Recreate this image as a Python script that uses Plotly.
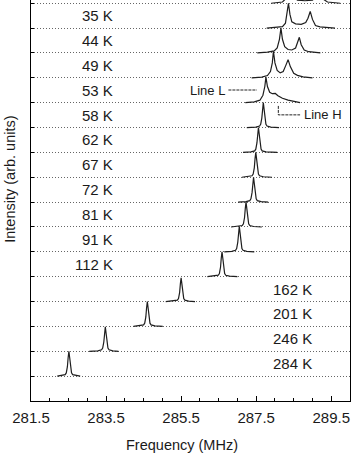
import plotly.graph_objects as go

# rows counted from the bottom (row 0 = 284 K), one band per spectrum
temps = ["284 K", "246 K", "201 K", "162 K", "112 K", "91 K", "81 K",
         "72 K", "67 K", "62 K", "58 K", "53 K", "49 K", "44 K", "35 K"]

# single-line spectra (rows 0-10): window start, peak, window end (MHz), peak height
start_f = [282.20, 283.05, 284.23, 285.09, 286.20, 286.65, 286.83, 287.02, 287.12, 287.15, 287.25]
peak_f = [282.51, 283.48, 284.60, 285.50, 286.59, 287.05, 287.23, 287.43, 287.49, 287.56, 287.69]
end_f = [282.81, 283.83, 285.01, 285.87, 287.00, 287.45, 287.65, 287.82, 287.92, 288.06, 288.11]
peak_h = [1.00, 0.98, 1.00, 0.95, 1.00, 1.03, 1.00, 1.00, 1.00, 1.00, 1.00]

# line shape (offset in MHz, relative height)
shape_df = [-0.2, -0.1, -0.07, -0.04, -0.02, 0, 0.02, 0.04, 0.07, 0.1, 0.2]
shape_h = [0.02, 0.06, 0.13, 0.38, 0.75, 1.0, 0.75, 0.38, 0.13, 0.06, 0.02]

# split spectra, read point by point
f53 = [287.21, 287.45, 287.60, 287.68, 287.73, 287.76, 287.80, 287.86, 287.93, 288.01, 288.08, 288.20, 288.35, 288.50, 288.67]
i53 = [0, 0.03, 0.10, 0.30, 0.65, 1.03, 0.65, 0.42, 0.36, 0.37, 0.28, 0.18, 0.10, 0.05, 0]
f49 = [287.38, 287.65, 287.80, 287.88, 287.93, 287.96, 288.00, 288.06, 288.14, 288.22, 288.29, 288.35, 288.41, 288.50, 288.60, 288.75, 289.00]
i49 = [0, 0.03, 0.09, 0.25, 0.60, 1.07, 0.60, 0.30, 0.20, 0.25, 0.50, 0.73, 0.45, 0.18, 0.10, 0.04, 0]
f44 = [287.53, 287.80, 287.98, 288.06, 288.12, 288.16, 288.20, 288.26, 288.35, 288.45, 288.55, 288.60, 288.65, 288.70, 288.78, 288.90, 289.21]
i44 = [0, 0.03, 0.08, 0.20, 0.55, 1.00, 0.55, 0.25, 0.14, 0.12, 0.20, 0.38, 0.63, 0.33, 0.12, 0.05, 0]
f35 = [287.78, 288.00, 288.20, 288.28, 288.32, 288.36, 288.40, 288.45, 288.55, 288.70, 288.82, 288.88, 288.94, 289.00, 289.08, 289.20, 289.60]
i35 = [0, 0.02, 0.06, 0.20, 0.55, 1.00, 0.55, 0.25, 0.17, 0.15, 0.22, 0.40, 0.67, 0.35, 0.10, 0.05, 0]
f_top = [287.90, 288.20, 288.30, 288.34, 288.38, 288.42, 288.48, 288.60, 288.80, 289.00, 289.10, 289.15, 289.19, 289.23, 289.30, 289.40, 289.74]
i_top = [0, 0.05, 0.20, 0.60, 1.00, 0.60, 0.30, 0.12, 0.10, 0.12, 0.30, 0.60, 0.80, 0.50, 0.15, 0.05, 0]

split = [(11, f53, i53), (12, f49, i49), (13, f44, i44), (14, f35, i35), (15, f_top, i_top)]

line = dict(color="#1e1e1e", width=1.2)
fig = go.Figure()

for k in range(len(peak_f)):
    xs = [start_f[k]] + [peak_f[k] + d for d in shape_df] + [end_f[k]]
    ys = [k] + [k + peak_h[k] * r for r in shape_h] + [k]
    fig.add_trace(go.Scatter(x=xs, y=ys, mode="lines", line=line, showlegend=False))

for k, fs, iv in split:
    fig.add_trace(go.Scatter(x=fs, y=[k + v for v in iv], mode="lines", line=line, showlegend=False))

font = dict(family="Arial, Liberation Sans, sans-serif", color="#1a1a1a")
ann = []
for k, t in enumerate(temps):
    # high temperatures are labelled on the right side
    xpos = 289.05 if k < 4 else 283.74
    ann.append(dict(x=xpos, y=k + 0.5, text=t, showarrow=False, xanchor="right",
                    yanchor="middle", font=dict(size=15, **font)))

ann.append(dict(x=286.72, y=11.51, text="Line L", showarrow=False, xanchor="right",
                yanchor="middle", font=dict(size=13, **font)))
ann.append(dict(x=288.72, y=10.51, text="Line H", showarrow=False, xanchor="left",
                yanchor="middle", font=dict(size=13, **font)))
ann.append(dict(x=-0.066, y=0.554, xref="paper", yref="paper", text="Intensity (arb. units)",
                textangle=-90, showarrow=False, xanchor="center", yanchor="middle",
                font=dict(size=14.5, **font)))
ann.append(dict(x=0.472, y=-0.11, xref="paper", yref="paper", text="Frequency (MHz)",
                showarrow=False, xanchor="center", yanchor="middle", font=dict(size=14.5, **font)))

dash = dict(color="#222222", width=1, dash="3px,1px")
shapes = [
    dict(type="line", x0=286.76, x1=287.52, y0=11.51, y1=11.51, line=dash),
    dict(type="path", path="M 288.09 10.87 L 288.09 10.51 L 288.67 10.51", line=dash),
]

fig.update_layout(
    width=354, height=458,
    margin=dict(l=31, r=4, t=0, b=57),
    plot_bgcolor="white", paper_bgcolor="white",
    annotations=ann, shapes=shapes,
    font=font,
)
fig.update_xaxes(
    range=[281.5, 290.0], tickmode="linear", tick0=281.5, dtick=2, tickformat=".1f",
    ticks="inside", ticklen=5, tickcolor="black", showline=True, linecolor="black",
    linewidth=1, mirror=False, showgrid=False, zeroline=False,
    tickfont=dict(size=15, color="#1a1a1a"), ticklabelstandoff=3,
    minor=dict(tickmode="linear", tick0=281.5, dtick=0.5, ticks="inside", ticklen=3,
               tickcolor="black", showgrid=False),
)
fig.update_yaxes(
    range=[-1, 15.13], tickvals=list(range(16)), showticklabels=False,
    ticks="inside", ticklen=3, tickcolor="black",
    showgrid=True, gridcolor="#666666", griddash="1px,2px", gridwidth=1,
    showline=True, mirror=True, linecolor="black", linewidth=1, zeroline=False,
)

# drop the browser's default page margin so the figure fills the window
fig.write_html("out.html", config={"displayModeBar": False},
               post_script="document.body.style.margin='0';")
